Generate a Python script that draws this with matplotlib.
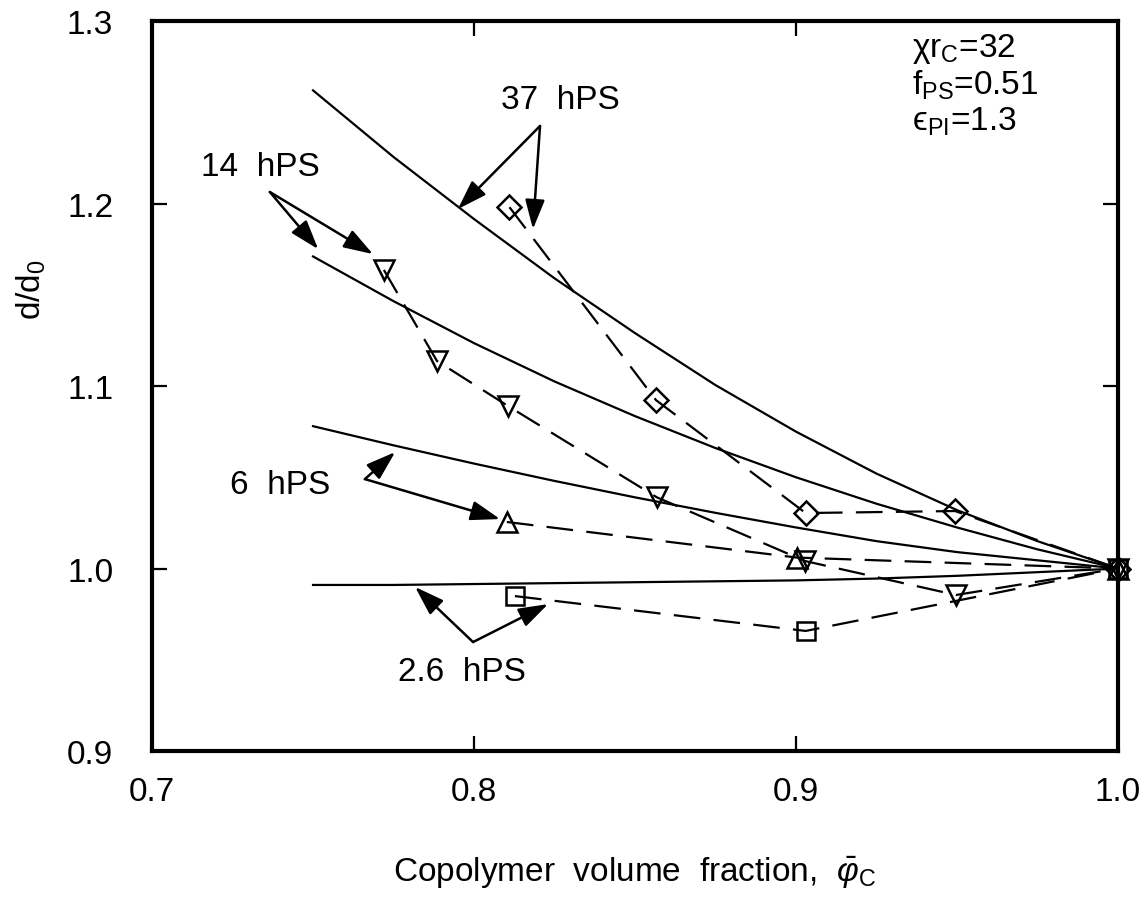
import matplotlib

matplotlib.use("Agg")
import matplotlib.pyplot as plt

plt.rcParams.update(
    {
        "font.family": ["Liberation Sans", "DejaVu Sans"],
        "font.size": 24,
        "mathtext.fontset": "custom",
        "mathtext.rm": "Liberation Sans",
        "mathtext.it": "Liberation Sans:italic",
        "mathtext.fallback": "stixsans",
    }
)

# theory curves (solid)
curve_x = [0.75, 0.775, 0.80, 0.825, 0.85, 0.875, 0.90, 0.925, 0.95, 0.975, 1.0]
curve_y = {
    "37": [1.262, 1.2255, 1.1915, 1.159, 1.129, 1.1005, 1.075, 1.052, 1.032, 1.015, 1.0],
    "14": [1.171, 1.1465, 1.1235, 1.1025, 1.0835, 1.066, 1.050, 1.0355, 1.0225, 1.0105, 1.0],
    "6": [1.078, 1.0675, 1.0575, 1.048, 1.039, 1.0305, 1.0225, 1.015, 1.009, 1.0045, 1.0],
    "2.6": [0.991, 0.991, 0.9915, 0.992, 0.9925, 0.993, 0.9935, 0.9945, 0.996, 0.998, 1.0],
}

# measured points (dashed + open markers)
data_x = {
    "37": [0.811, 0.8565, 0.903, 0.9494, 1.0],
    "14": [0.772, 0.7885, 0.8106, 0.8568, 0.9028, 0.9497, 1.0],
    "6": [0.8102, 0.9003, 1.0],
    "2.6": [0.8127, 0.903, 1.0],
}
data_y = {
    "37": [1.198, 1.0923, 1.0304, 1.0315, 1.0],
    "14": [1.1636, 1.1137, 1.089, 1.039, 1.0041, 0.9855, 1.0],
    "6": [1.0255, 1.006, 1.0],
    "2.6": [0.9849, 0.9658, 1.0],
}
markers = {"37": "D", "14": "v", "6": "^", "2.6": "s"}
msizes = {"37": 12, "14": 15, "6": 15, "2.6": 13}

# label text position, arrow origin, arrow tips
labels = {
    "37": ((0.8267, 1.257), (0.8205, 1.2425), [(0.795, 1.197), (0.8183, 1.186)]),
    "14": ((0.7335, 1.2205), (0.7366, 1.2063), [(0.7516, 1.175), (0.7686, 1.1723)]),
    "6": ((0.7398, 1.0463), (0.7661, 1.049), [(0.7755, 1.0638), (0.8081, 1.0271)]),
    "2.6": ((0.7963, 0.9438), (0.7997, 0.9597), [(0.7817, 0.9899), (0.823, 0.9805)]),
}

fig = plt.figure(figsize=(11.45, 9.03), dpi=100)
ax = fig.add_axes([0.1328, 0.1672, 0.8436, 0.8084])

for key in curve_y:
    ax.plot(curve_x, curve_y[key], color="black", lw=1.6)
    ax.plot(
        data_x[key], data_y[key], color="black", lw=1.6, ls=(0, (12, 6)),
        marker=markers[key], ms=msizes[key], mfc="none", mew=1.8, clip_on=False,
    )
    (tx, ty), origin, tips = labels[key]
    ax.text(tx, ty, f"{key}  hPS", ha="center", va="center")
    for tip in tips:
        ax.annotate(
            "", xy=tip, xytext=origin,
            arrowprops=dict(arrowstyle="-|>,head_length=0.9,head_width=0.3",
                            color="black", lw=1.8, shrinkA=0, shrinkB=0,
                            mutation_scale=20),
        )

ax.text(0.936, 1.2810, "χr$_{\\mathrm{C}}$=32", ha="left", va="baseline")
ax.text(0.936, 1.2605, "f$_{\\mathrm{PS}}$=0.51", ha="left", va="baseline")
ax.text(0.936, 1.2405, "ϵ$_{\\mathrm{PI}}$=1.3", ha="left", va="baseline")

ax.set_xlim(0.7, 1.0)
ax.set_ylim(0.9, 1.3)
ax.set_xticks([0.7, 0.8, 0.9, 1.0])
ax.set_yticks([0.9, 1.0, 1.1, 1.2, 1.3])
ax.set_xticklabels(["0.7", "0.8", "0.9", "1.0"])
ax.set_yticklabels(["0.9", "1.0", "1.1", "1.2", "1.3"])
ax.tick_params(axis="x", direction="in", length=11, width=1.6, top=True, pad=18)
ax.tick_params(axis="y", direction="in", length=11, width=1.6, right=True, pad=28)
for sp in ax.spines.values():
    sp.set_linewidth(3)

ax.set_xlabel("Copolymer  volume  fraction,  $\\bar{\\varphi}_{\\mathrm{C}}$")
ax.xaxis.set_label_coords(0.5, -0.141)
ax.set_ylabel("d/d$_0$")
ax.yaxis.set_label_coords(-0.108, 0.633)

fig.savefig("out.png", dpi=100)
